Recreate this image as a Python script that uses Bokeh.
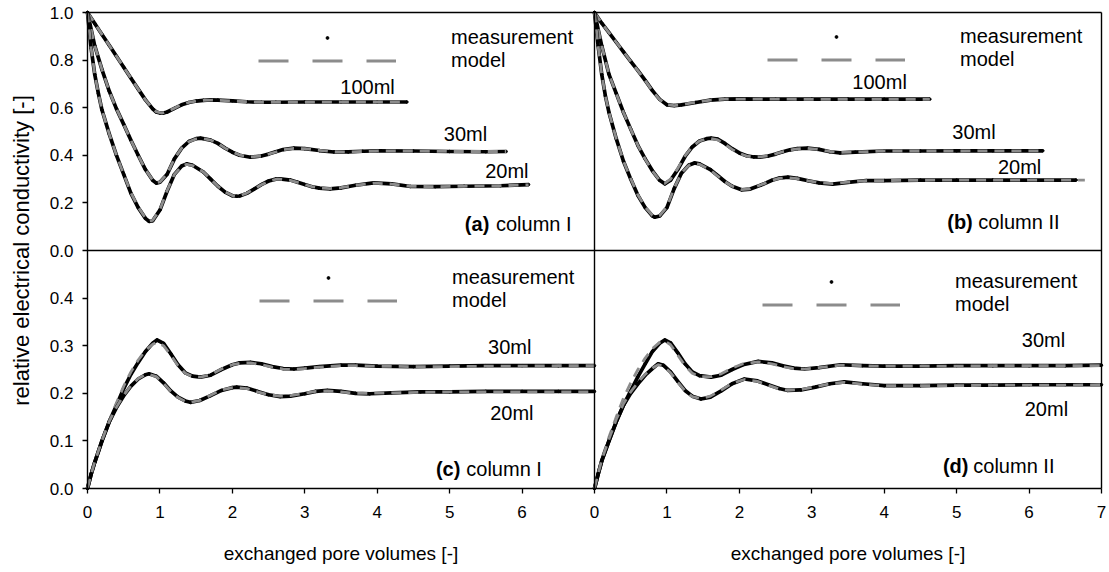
from bokeh.plotting import figure
from bokeh.models import Range1d, FixedTicker, Label, Legend, LegendItem, LinearAxis
from bokeh.embed import file_html
from bokeh.resources import INLINE

FONT = "Liberation Sans"
GRAY = "#8c8c8c"
NAN = float("nan")

# ---------------- data ----------------
# (a) column I
a100_x = [0, 0.1, 0.2, 0.3, 0.4, 0.5, 0.6, 0.7, 0.8, 0.9, 0.95, 1.0, 1.05, 1.1, 1.2, 1.3, 1.4, 1.5, 1.6, 1.7, 1.8, 2.0, 2.2, 2.4, 2.6, 3.0, 3.5, 4.0, 4.41]
a100_y = [1.0, 0.954, 0.908, 0.862, 0.816, 0.77, 0.724, 0.678, 0.633, 0.595, 0.582, 0.578, 0.578, 0.582, 0.597, 0.612, 0.622, 0.628, 0.631, 0.633, 0.632, 0.629, 0.625, 0.623, 0.623, 0.624, 0.624, 0.624, 0.624]
a100_m = [1.0, 0.954, 0.908, 0.862, 0.816, 0.77, 0.724, 0.678, 0.633, 0.596, 0.583, 0.579, 0.579, 0.583, 0.598, 0.613, 0.622, 0.628, 0.631, 0.632, 0.631, 0.628, 0.625, 0.623, 0.623, 0.623, 0.624, 0.624, 0.624]

a30_x = [0, 0.1, 0.2, 0.3, 0.4, 0.5, 0.6, 0.7, 0.8, 0.9, 0.95, 1.0, 1.1, 1.2, 1.3, 1.4, 1.5, 1.56, 1.7, 1.8, 1.9, 2.0, 2.1, 2.25, 2.4, 2.5, 2.6, 2.7, 2.85, 3.0, 3.2, 3.4, 3.6, 3.8, 4.0, 4.5, 5.0, 5.5, 5.78]
a30_y = [1.0, 0.86, 0.76, 0.67, 0.595, 0.53, 0.463, 0.40, 0.34, 0.295, 0.283, 0.287, 0.32, 0.385, 0.43, 0.458, 0.47, 0.472, 0.464, 0.45, 0.43, 0.413, 0.40, 0.392, 0.397, 0.405, 0.415, 0.424, 0.43, 0.428, 0.42, 0.414, 0.414, 0.417, 0.419, 0.418, 0.416, 0.415, 0.416]
a30_m = [1.0, 0.86, 0.76, 0.67, 0.595, 0.53, 0.463, 0.40, 0.34, 0.296, 0.284, 0.288, 0.322, 0.386, 0.43, 0.457, 0.469, 0.471, 0.464, 0.45, 0.43, 0.414, 0.401, 0.393, 0.397, 0.405, 0.414, 0.423, 0.429, 0.428, 0.421, 0.415, 0.414, 0.416, 0.418, 0.418, 0.416, 0.416, 0.416]

a20_x = [0, 0.05, 0.1, 0.15, 0.2, 0.3, 0.4, 0.5, 0.6, 0.7, 0.8, 0.85, 0.9, 1.0, 1.1, 1.2, 1.3, 1.37, 1.45, 1.6, 1.7, 1.8, 1.9, 2.0, 2.06, 2.1, 2.2, 2.3, 2.4, 2.5, 2.6, 2.66, 2.8, 2.9, 3.0, 3.1, 3.2, 3.35, 3.5, 3.7, 3.95, 4.2, 4.46, 4.8, 5.2, 5.7, 6.09]
a20_y = [1.0, 0.85, 0.74, 0.66, 0.59, 0.49, 0.40, 0.32, 0.24, 0.18, 0.135, 0.122, 0.125, 0.17, 0.25, 0.32, 0.355, 0.364, 0.358, 0.33, 0.30, 0.27, 0.245, 0.23, 0.228, 0.229, 0.24, 0.258, 0.277, 0.292, 0.30, 0.301, 0.296, 0.287, 0.277, 0.268, 0.262, 0.259, 0.263, 0.274, 0.284, 0.28, 0.269, 0.268, 0.27, 0.272, 0.277]
a20_m = [1.0, 0.85, 0.74, 0.66, 0.59, 0.49, 0.40, 0.32, 0.242, 0.182, 0.137, 0.124, 0.127, 0.172, 0.252, 0.32, 0.354, 0.362, 0.357, 0.33, 0.30, 0.27, 0.246, 0.231, 0.229, 0.23, 0.241, 0.258, 0.276, 0.291, 0.299, 0.3, 0.295, 0.286, 0.277, 0.268, 0.263, 0.26, 0.264, 0.274, 0.283, 0.279, 0.27, 0.268, 0.27, 0.272, 0.276]

# (b) column II
b100_x = [0, 0.1, 0.2, 0.3, 0.4, 0.5, 0.6, 0.7, 0.8, 0.9, 1.0, 1.1, 1.2, 1.4, 1.6, 1.8, 2.0, 2.5, 3.0, 3.5, 4.0, 4.63]
b100_y = [1.0, 0.955, 0.915, 0.875, 0.835, 0.795, 0.756, 0.715, 0.672, 0.635, 0.612, 0.609, 0.612, 0.622, 0.632, 0.636, 0.637, 0.636, 0.636, 0.636, 0.636, 0.636]
b100_m = [1.0, 0.955, 0.915, 0.875, 0.835, 0.795, 0.755, 0.714, 0.671, 0.634, 0.612, 0.609, 0.612, 0.623, 0.632, 0.636, 0.636, 0.636, 0.635, 0.635, 0.635, 0.635]

b30_x = [0, 0.1, 0.2, 0.3, 0.4, 0.5, 0.6, 0.7, 0.8, 0.9, 0.97, 1.05, 1.15, 1.25, 1.35, 1.45, 1.55, 1.61, 1.7, 1.8, 1.9, 2.0, 2.1, 2.2, 2.28, 2.4, 2.5, 2.6, 2.7, 2.8, 2.94, 3.1, 3.25, 3.39, 3.6, 4.0, 4.5, 5.0, 5.5, 6.19]
b30_y = [1.0, 0.86, 0.74, 0.66, 0.58, 0.51, 0.441, 0.385, 0.335, 0.295, 0.28, 0.295, 0.34, 0.395, 0.435, 0.46, 0.47, 0.472, 0.468, 0.45, 0.428, 0.41, 0.398, 0.393, 0.392, 0.397, 0.405, 0.415, 0.423, 0.428, 0.43, 0.425, 0.415, 0.41, 0.413, 0.418, 0.418, 0.419, 0.419, 0.419]
b30_m = [1.0, 0.86, 0.74, 0.66, 0.58, 0.51, 0.441, 0.384, 0.334, 0.294, 0.282, 0.3, 0.345, 0.398, 0.436, 0.46, 0.469, 0.47, 0.465, 0.447, 0.425, 0.408, 0.397, 0.393, 0.393, 0.398, 0.406, 0.415, 0.422, 0.427, 0.429, 0.424, 0.416, 0.412, 0.414, 0.418, 0.418, 0.418, 0.419, 0.419]

b20_x = [0, 0.05, 0.1, 0.15, 0.2, 0.3, 0.4, 0.5, 0.6, 0.7, 0.8, 0.83, 0.9, 1.0, 1.1, 1.2, 1.3, 1.38, 1.45, 1.6, 1.7, 1.8, 1.9, 2.03, 2.15, 2.3, 2.45, 2.55, 2.67, 2.8, 2.95, 3.1, 3.29, 3.5, 3.75, 4.0, 4.5, 5.0, 5.5, 6.0, 6.65]
b20_y = [1.0, 0.86, 0.74, 0.65, 0.58, 0.47, 0.375, 0.30, 0.231, 0.18, 0.145, 0.14, 0.145, 0.18, 0.26, 0.325, 0.358, 0.368, 0.364, 0.34, 0.315, 0.29, 0.27, 0.255, 0.258, 0.275, 0.295, 0.304, 0.308, 0.303, 0.293, 0.284, 0.279, 0.286, 0.294, 0.294, 0.296, 0.296, 0.296, 0.296, 0.296]
b20_mx = [0, 0.05, 0.1, 0.15, 0.2, 0.3, 0.4, 0.5, 0.6, 0.7, 0.8, 0.83, 0.9, 1.0, 1.1, 1.2, 1.3, 1.38, 1.45, 1.6, 1.7, 1.8, 1.9, 2.03, 2.15, 2.3, 2.45, 2.55, 2.67, 2.8, 2.95, 3.1, 3.29, 3.5, 3.75, 4.0, 4.5, 5.0, 5.5, 6.0, 6.77]
b20_m = [1.0, 0.86, 0.74, 0.65, 0.58, 0.47, 0.376, 0.302, 0.233, 0.182, 0.147, 0.142, 0.147, 0.183, 0.262, 0.326, 0.357, 0.366, 0.362, 0.338, 0.313, 0.289, 0.27, 0.256, 0.259, 0.276, 0.295, 0.303, 0.306, 0.302, 0.293, 0.285, 0.281, 0.287, 0.293, 0.294, 0.295, 0.296, 0.296, 0.296, 0.296]

# (c) column I
c30_x = [0, 0.05, 0.1, 0.2, 0.3, 0.4, 0.5, 0.6, 0.7, 0.8, 0.9, 0.96, 1.05, 1.15, 1.25, 1.35, 1.45, 1.56, 1.7, 1.85, 2.0, 2.1, 2.25, 2.4, 2.55, 2.7, 2.85, 3.0, 3.2, 3.5, 3.7, 4.0, 4.5, 5.0, 5.5, 6.0, 6.5, 7.0]
c30_y = [0, 0.03, 0.055, 0.10, 0.14, 0.175, 0.21, 0.24, 0.265, 0.288, 0.305, 0.312, 0.305, 0.283, 0.26, 0.243, 0.236, 0.234, 0.238, 0.25, 0.26, 0.264, 0.265, 0.262, 0.256, 0.252, 0.251, 0.253, 0.256, 0.259, 0.259, 0.257, 0.256, 0.257, 0.258, 0.258, 0.258, 0.258]
c30_m = [0, 0.03, 0.056, 0.102, 0.143, 0.18, 0.215, 0.245, 0.27, 0.29, 0.303, 0.307, 0.3, 0.28, 0.258, 0.242, 0.235, 0.234, 0.239, 0.251, 0.26, 0.263, 0.264, 0.26, 0.255, 0.251, 0.25, 0.252, 0.255, 0.258, 0.258, 0.257, 0.256, 0.256, 0.257, 0.257, 0.258, 0.258]

c20_x = [0, 0.05, 0.1, 0.2, 0.3, 0.4, 0.5, 0.6, 0.7, 0.8, 0.85, 0.95, 1.05, 1.15, 1.25, 1.35, 1.42, 1.55, 1.7, 1.85, 2.0, 2.06, 2.2, 2.35, 2.5, 2.66, 2.8, 3.0, 3.15, 3.31, 3.5, 3.7, 3.9, 4.2, 4.6, 5.0, 5.5, 6.0, 6.5, 7.0]
c20_y = [0, 0.03, 0.055, 0.10, 0.14, 0.17, 0.195, 0.215, 0.23, 0.239, 0.241, 0.236, 0.222, 0.205, 0.192, 0.184, 0.181, 0.185, 0.195, 0.206, 0.212, 0.213, 0.211, 0.204, 0.197, 0.193, 0.194, 0.199, 0.204, 0.206, 0.204, 0.2, 0.199, 0.201, 0.203, 0.203, 0.204, 0.204, 0.204, 0.204]
c20_m = [0, 0.03, 0.056, 0.101, 0.141, 0.171, 0.196, 0.216, 0.231, 0.239, 0.24, 0.235, 0.221, 0.204, 0.191, 0.183, 0.181, 0.185, 0.196, 0.207, 0.212, 0.212, 0.21, 0.203, 0.197, 0.194, 0.195, 0.2, 0.204, 0.205, 0.203, 0.2, 0.2, 0.201, 0.202, 0.203, 0.203, 0.203, 0.203, 0.203]

# (d) column II
d30_x = [0, 0.05, 0.1, 0.2, 0.3, 0.4, 0.5, 0.6, 0.7, 0.8, 0.9, 0.97, 1.05, 1.15, 1.25, 1.35, 1.45, 1.61, 1.75, 1.9, 2.05, 2.26, 2.45, 2.6, 2.75, 2.9, 3.1, 3.4, 3.7, 4.0, 4.5, 5.0, 5.5, 6.0, 6.5, 7.0]
d30_y = [0, 0.03, 0.058, 0.10, 0.14, 0.175, 0.205, 0.235, 0.262, 0.288, 0.305, 0.312, 0.306, 0.285, 0.262, 0.245, 0.237, 0.234, 0.238, 0.25, 0.26, 0.267, 0.264, 0.258, 0.253, 0.251, 0.254, 0.26, 0.258, 0.257, 0.257, 0.258, 0.258, 0.258, 0.258, 0.259]
d30_m = [0, 0.032, 0.062, 0.108, 0.15, 0.19, 0.222, 0.25, 0.274, 0.294, 0.307, 0.31, 0.302, 0.28, 0.258, 0.242, 0.235, 0.235, 0.241, 0.253, 0.262, 0.266, 0.262, 0.256, 0.252, 0.251, 0.254, 0.259, 0.258, 0.257, 0.257, 0.257, 0.258, 0.258, 0.258, 0.258]

d20_x = [0, 0.05, 0.1, 0.2, 0.3, 0.4, 0.5, 0.6, 0.7, 0.8, 0.88, 0.95, 1.05, 1.15, 1.25, 1.35, 1.47, 1.6, 1.75, 1.9, 2.07, 2.25, 2.4, 2.55, 2.67, 2.85, 3.05, 3.25, 3.45, 3.7, 4.0, 4.5, 5.0, 5.5, 6.0, 6.5, 7.0]
d20_y = [0, 0.03, 0.058, 0.10, 0.14, 0.175, 0.2, 0.22, 0.238, 0.252, 0.262, 0.259, 0.245, 0.225, 0.206, 0.194, 0.188, 0.192, 0.205, 0.22, 0.23, 0.226, 0.218, 0.21, 0.206, 0.207, 0.213, 0.22, 0.224, 0.22, 0.216, 0.216, 0.217, 0.217, 0.218, 0.218, 0.218]
d20_m = [0, 0.031, 0.06, 0.104, 0.145, 0.178, 0.203, 0.223, 0.24, 0.253, 0.26, 0.257, 0.243, 0.223, 0.205, 0.193, 0.189, 0.194, 0.207, 0.221, 0.229, 0.225, 0.217, 0.209, 0.206, 0.208, 0.214, 0.22, 0.223, 0.219, 0.216, 0.216, 0.216, 0.217, 0.217, 0.217, 0.218]

# axis ticks: lower panels use the main y scale (0..0.5 in the lower half),
# upper panels use the "top" scale (0..1 in the upper half)
y_ticks = [0, 0.1, 0.2, 0.3, 0.4, 0.5, 0.6, 0.7, 0.8, 0.9, 1.0]
y_tick_labels = ["0.0", "0.1", "0.2", "0.3", "0.4", "0.0", "0.2", "0.4", "0.6", "0.8", "1.0"]
x_ticks = [0, 1, 2, 3, 4, 5, 6, 7, 8, 9, 10, 11, 12, 13, 14]
x_tick_labels = ["0", "1", "2", "3", "4", "5", "6", "0", "1", "2", "3", "4", "5", "6", "7"]

# the frame covers the whole 1109 x 572 page; panels occupy x 87..1101 px, y 12..488 px
PX_X = 1014 / 14          # px per x unit
PX_Y = 476                # px per unit of the lower scale
X0 = -87 / PX_X
X1 = 14 + 8 / PX_X
Y0 = -84 / PX_Y
Y1 = 0.5 + 250 / PX_Y

p = figure(frame_width=1109, frame_height=572,
           x_range=Range1d(X0, X1), y_range=Range1d(Y0, Y1),
           min_border=0, output_backend="svg", toolbar_location=None)
p.extra_x_ranges = {"right": Range1d(X0 - 7, X1 - 7)}
p.extra_y_ranges = {"top": Range1d(-322 / 238, 250 / 238)}
p.grid.visible = False
p.outline_line_color = None
p.border_fill_color = "white"
p.background_fill_color = "white"


def style_axis(ax):
    ax.axis_line_color = "black"
    ax.axis_line_width = 1.4
    ax.major_tick_line_color = "black"
    ax.major_tick_line_width = 1.3
    ax.major_tick_out = 5
    ax.major_tick_in = 0
    ax.minor_tick_line_color = None
    ax.major_label_text_font = FONT
    ax.major_label_text_font_size = "17px"
    ax.major_label_text_color = "black"
    ax.axis_label_text_font = FONT
    ax.axis_label_text_font_size = "22px"
    ax.axis_label_text_font_style = "normal"
    ax.axis_label_text_color = "black"


for ax in p.axis:
    style_axis(ax)

p.yaxis.ticker = FixedTicker(ticks=y_ticks)
p.yaxis.major_label_overrides = dict(zip(y_ticks, y_tick_labels))
p.yaxis.bounds = (0, 1.0)
p.yaxis.fixed_location = 0
p.yaxis.major_label_standoff = 9
p.yaxis.axis_label = "relative electrical conductivity [-]"
p.yaxis.axis_label_standoff = 13

p.xaxis.ticker = FixedTicker(ticks=x_ticks)
p.xaxis.major_label_overrides = dict(zip(x_ticks, x_tick_labels))
p.xaxis.bounds = (0, 14)
p.xaxis.fixed_location = 0
p.xaxis.major_label_standoff = 12

# panel borders drawn as tick-less axes
top_border = LinearAxis(ticker=FixedTicker(ticks=[]), bounds=(0, 14), fixed_location=1.0)
mid_h_border = LinearAxis(ticker=FixedTicker(ticks=[]), bounds=(0, 14), fixed_location=0.5)
right_border = LinearAxis(ticker=FixedTicker(ticks=[]), bounds=(0, 1.0), fixed_location=14)
mid_v_border = LinearAxis(ticker=FixedTicker(ticks=[]), bounds=(0, 1.0), fixed_location=7)
for ax in (top_border, mid_h_border, right_border, mid_v_border):
    style_axis(ax)
    ax.major_tick_line_color = None
p.add_layout(top_border, "above")
p.add_layout(mid_h_border, "above")
p.add_layout(right_border, "right")
p.add_layout(mid_v_border, "right")


def curve(xs, ys, mx, my, xr="default", yr="default"):
    p.line(xs, ys, line_color="black", line_width=3.7, line_join="round",
           x_range_name=xr, y_range_name=yr)
    p.scatter(xs, ys, size=2.5, color="black", x_range_name=xr, y_range_name=yr)
    p.line(mx, my, line_color=GRAY, line_width=2.8, line_dash="10 7", line_join="round",
           x_range_name=xr, y_range_name=yr)


curve(a100_x, a100_y, a100_x, a100_m, yr="top")
curve(a30_x, a30_y, a30_x, a30_m, yr="top")
curve(a20_x, a20_y, a20_x, a20_m, yr="top")
curve(b100_x, b100_y, b100_x, b100_m, xr="right", yr="top")
curve(b30_x, b30_y, b30_x, b30_m, xr="right", yr="top")
curve(b20_x, b20_y, b20_mx, b20_m, xr="right", yr="top")
curve(c30_x, c30_y, c30_x, c30_m)
curve(c20_x, c20_y, c20_x, c20_m)
curve(d30_x, d30_y, d30_x, d30_m, xr="right")
curve(d20_x, d20_y, d20_x, d20_m, xr="right")

# legend-only glyphs (no data points)
leg_dot = p.scatter([NAN], [NAN], size=3, color="black")
leg_dash = p.line([NAN, NAN], [NAN, NAN], line_color=GRAY, line_width=3, line_dash="30 24")


def legend(loc):
    lg = Legend(items=[LegendItem(label="measurement", renderers=[leg_dot]),
                       LegendItem(label="model", renderers=[leg_dash])],
                location=loc, glyph_width=138, glyph_height=7, label_height=22,
                label_standoff=55, spacing=0, padding=0, margin=0,
                border_line_color=None, background_fill_alpha=0,
                label_text_font=FONT, label_text_font_size="20px", label_text_color="black")
    p.add_layout(lg)


legend((258, 500))
legend((767, 501))
legend((259, 260))
legend((762, 256))


def txt(x, y, s, xr="default", yr="default", bold=False):
    p.add_layout(Label(x=x, y=y, text=s, x_range_name=xr, y_range_name=yr,
                       text_font=FONT, text_font_size="20px",
                       text_font_style="bold" if bold else "normal", text_color="black",
                       text_baseline="middle", text_align="left"))


# (a)
txt(3.49, 0.689, "100ml", yr="top")
txt(4.92, 0.49, "30ml", yr="top")
txt(5.49, 0.336, "20ml", yr="top")
txt(5.21, 0.113, "(a)", yr="top", bold=True)
txt(5.64, 0.113, "column I", yr="top")
# (b)
txt(3.56, 0.71, "100ml", xr="right", yr="top")
txt(4.94, 0.50, "30ml", xr="right", yr="top")
txt(5.57, 0.35, "20ml", xr="right", yr="top")
txt(4.87, 0.118, "(b)", xr="right", yr="top", bold=True)
txt(5.30, 0.118, "column II", xr="right", yr="top")
# (c)
txt(5.53, 0.298, "30ml")
txt(5.56, 0.158, "20ml")
txt(4.81, 0.042, "(c)", bold=True)
txt(5.23, 0.042, "column I")
# (d)
txt(5.90, 0.311, "30ml", xr="right")
txt(5.94, 0.168, "20ml", xr="right")
txt(4.81, 0.048, "(d)", xr="right", bold=True)
txt(5.23, 0.048, "column II", xr="right")

# x-axis titles, one under each column (65 px below the panels)
for xr in ("default", "right"):
    p.add_layout(Label(x=3.5, y=-65 / PX_Y, x_range_name=xr,
                       text="exchanged pore volumes [-]", text_font=FONT, text_font_size="19px",
                       text_color="black", text_align="center", text_baseline="middle"))

open("out.html", "w").write(file_html(p, INLINE))
